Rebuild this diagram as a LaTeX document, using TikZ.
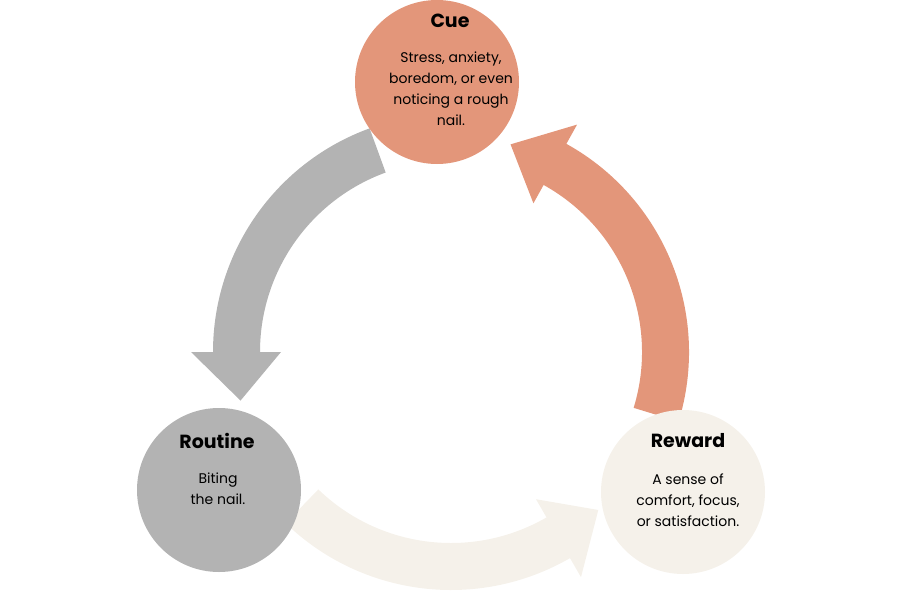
\documentclass[tikz,border=0pt]{standalone}
\usepackage{fontspec}
\setmainfont{Poppins}
\usetikzlibrary{calc}
\definecolor{salmon}{HTML}{E3967A}
\definecolor{grayc}{HTML}{B3B3B3}
\definecolor{cream}{HTML}{F5F1EA}
\begin{document}
\begin{tikzpicture}[x=1pt,y=-1pt,
  stage/.style={circle,minimum size=164pt,inner sep=0pt},
  ttl/.style={font=\bfseries\fontsize{19}{22}\selectfont},
  body/.style={font=\fontsize{14}{21}\selectfont,align=center}]
\useasboundingbox (0,0) rectangle (900,600);
\coordinate (c) at (451,352);
% arrow macro via pic-like command
\newcommand\bandarrow[4]{% color, a1, a2, a3
  \fill[#1] ($(c)+(-#2:238)$) arc[start angle=-#2,end angle=-#3,radius=238]
   -- ($(c)+(-#3:260)$) -- ($(c)+(-#4:216)$) -- ($(c)+(-#3:170)$)
   -- ($(c)+(-#3:191)$) arc[start angle=-#3,end angle=-#2,radius=191] -- cycle;}
\bandarrow{grayc}{110}{180}{193}
\bandarrow{salmon}{-17}{61}{74}
\bandarrow{cream}{226}{300}{313}
\node[stage,fill=salmon] (cue) at (437,82) {};
\node[stage,fill=grayc] (routine) at (219,490) {};
\node[stage,fill=cream] (reward) at (683,492) {};
\node[ttl] (cuet) at (450,21) {Cue};
\node[body] (cueb) at (451,89) {Stress, anxiety,\\boredom, or even\\noticing a rough\\nail.};
\node[ttl] (routinet) at (217,441) {Routine};
\node[body] (routineb) at (218,489) {Biting\\the nail.};
\node[ttl] (rewardt) at (688,441) {Reward};
\node[body] (rewardb) at (688,500) {A sense of\\comfort, focus,\\or satisfaction.};
\end{tikzpicture}
\end{document}
